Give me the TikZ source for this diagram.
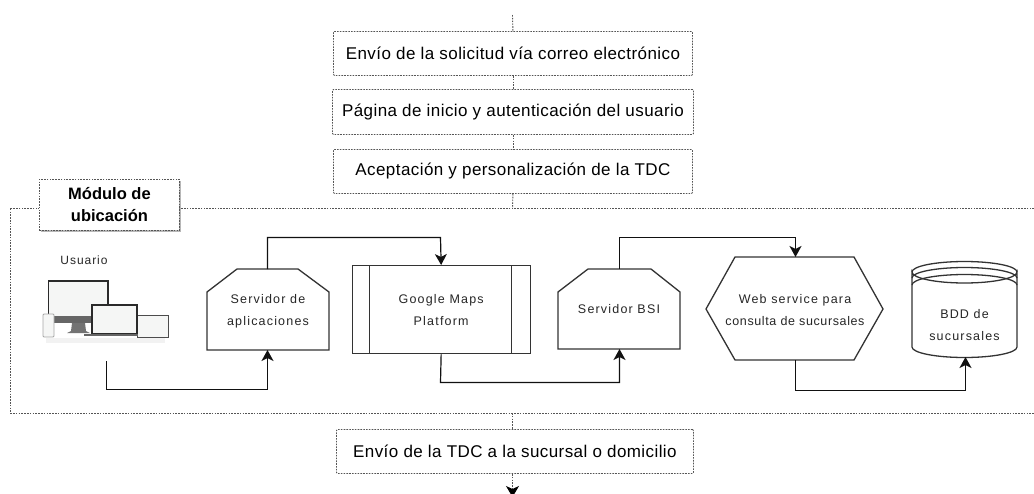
\documentclass[tikz,border=0pt]{standalone}
\usepackage{fontspec}
\setmainfont{Liberation Sans}
\usetikzlibrary{arrows.meta,shadows}
\definecolor{dashc}{HTML}{555555}
\definecolor{linec}{HTML}{111111}
\definecolor{shapec}{HTML}{333333}
\definecolor{scr}{HTML}{F5F6F5}
\definecolor{bez}{HTML}{2A2A2A}
\tikzset{
 x=1pt,y=-1pt,
 dashline/.style={draw=dashc,line width=0.9pt,dash pattern=on 1.6pt off 1.2pt},
 stepbox/.style={dashline,rounded corners=1pt,fill=white,inner sep=0pt,align=center,font=\fontsize{17}{20}\selectfont\addfontfeature{LetterSpace=2.5}},
 shapeline/.style={draw=shapec,line width=1.3pt,fill=white},
 flow/.style={draw=linec,line width=1.2pt,-{Stealth[length=11pt,width=12pt,inset=3pt]}},
 small/.style={font=\fontsize{12.5}{22}\selectfont\addfontfeature{LetterSpace=9.5},align=center,inner sep=0pt,text=black!85},
 areaframe/.style={dashline},
}
\begin{document}
\begin{tikzpicture}
\useasboundingbox (0,0) rectangle (1034,493);
\clip (0,0) rectangle (1034,493);
% frame
\draw[areaframe] (1034,208) -- (10,208) -- (10,413) -- (1034,413);
% module label
\node[dashline,fill=white,minimum width=140pt,minimum height=51pt,inner sep=0pt,align=center,anchor=north west,
  font=\fontsize{16.5}{22}\selectfont\bfseries,drop shadow={shadow xshift=2pt,shadow yshift=-2pt,fill=black!40,opacity=.7}] (mod) at (39,179) {Módulo de\\ubicación};
% steps
\coordinate (top) at (512.5,15);
\node[stepbox,minimum width=359pt,minimum height=44pt,anchor=north west] (s1) at (333,31) {Envío de la solicitud vía correo electrónico};
\node[stepbox,minimum width=361pt,minimum height=45pt,anchor=north west] (s2) at (332,89) {Página de inicio y autenticación del usuario};
\node[stepbox,minimum width=359pt,minimum height=44pt,anchor=north west] (s3) at (333,149) {Aceptación y personalización de la TDC};
\node[stepbox,minimum width=357pt,minimum height=44pt,anchor=north west] (s4) at (336,429) {Envío de la TDC a la sucursal o domicilio};
\coordinate (frametop) at (512.5,208);
\coordinate (framebot) at (512.5,413);
\coordinate (endp) at (512.5,497);
\draw[dashline] (top) -- (s1.north);
\draw[dashline] (s1.south) -- (s2.north);
\draw[dashline] (s2.south) -- (s3.north);
\draw[dashline] (s3.south) -- (frametop);
\draw[dashline] (framebot) -- (framebot |- s4.north);
\draw[dashline,-{Stealth[length=11pt,width=13pt,inset=3pt,color=black]}] (framebot |- s4.south) -- (endp);
% Usuario icon
\node[small,font=\fontsize{12}{14}\selectfont\addfontfeature{LetterSpace=8}] (usr) at (84,260) {Usuario};
\begin{scope}
 \fill[black!5] (46,338) rectangle (165,343);
 \draw[draw=bez,line width=1.6pt,fill=scr] (48.5,281) rectangle (108,320);
 \fill[black!60] (49,316) rectangle (108,323);
 \fill[black!55] (72,323) -- (85,323) -- (86,331) -- (90,333) -- (67,333) -- (71,331) -- cycle;
 \draw[draw=black!35,line width=.8pt,fill=scr,rounded corners=1pt] (43,314) rectangle (54,337);
 \draw[draw=black!70,line width=1pt,fill=scr] (137,315) rectangle (168,337);
 \draw[draw=bez,line width=1.6pt,fill=scr] (92,305) rectangle (137,334);
 \fill[black!60] (84,334) rectangle (138,336);
\end{scope}
% servers
\path[shapeline] (237,269) -- (298,269) -- (329,292) -- (329,350) -- (207,350) -- (207,292) -- cycle;
\node[small] (srv1) at (268,311) {Servidor de\\aplicaciones};
\coordinate (srv1top) at (267.5,269);
\coordinate (srv1bot) at (267.5,350);
\path[shapeline] (588,269) -- (651,269) -- (680,292) -- (680,349) -- (558,349) -- (558,292) -- cycle;
\node[small] (srv2) at (619,309) {Servidor BSI};
\coordinate (srv2top) at (619.5,269);
\coordinate (srv2bot) at (619.5,349);
% Google
\node[shapeline,minimum width=178pt,minimum height=88pt,inner sep=0pt,small,anchor=north west,draw=shapec,line width=1.3pt] (gm) at (351.5,265) {Google Maps\\Platform};
\draw[shapeline] (369.5,265) -- (369.5,353);
\draw[shapeline] (511.5,265) -- (511.5,353);
% hexagon
\path[shapeline] (735,257) -- (854,257) -- (883,309) -- (854,360) -- (735,360) -- (706,309) -- cycle;
\node[small] (ws) at (795,310) {Web service para\\\addfontfeature{LetterSpace=5}consulta de sucursales};
\coordinate (wstop) at (795.5,257);
\coordinate (wsbot) at (795.5,360);
% cylinder
\path[shapeline] (912,272) arc[start angle=180,end angle=0,x radius=52.5,y radius=11] -- (1017,347) arc[start angle=0,end angle=180,x radius=52.5,y radius=10.5] -- cycle;
\draw[shapeline,fill=none] (912,272) arc[start angle=180,end angle=360,x radius=52.5,y radius=10.5];
\draw[shapeline,fill=none] (912,278) arc[start angle=180,end angle=360,x radius=52.5,y radius=10.5];
\draw[shapeline,fill=none] (912,285) arc[start angle=180,end angle=360,x radius=52.5,y radius=10.5];
\node[small] (bd) at (964.5,325) {BDD de\\sucursales};
\coordinate (bdbot) at (965.5,357);
\coordinate (usrout) at (106.5,361);
% connectors
\draw[flow] (usrout) -- (106.5,389.5) -- (267.5,389.5) -- (srv1bot);
\draw[flow] (srv1top) -- (267.5,237.5) -- (440.5,237.5) -- (gm.north);
\draw[flow] (gm.south) -- (440.5,382.5) -- (619.5,382.5) -- (srv2bot);
\draw[flow] (srv2top) -- (619.5,237.5) -- (795.5,237.5) -- (wstop);
\draw[flow] (wsbot) -- (795.5,390.5) -- (965.5,390.5) -- (bdbot);
\end{tikzpicture}
\end{document}
